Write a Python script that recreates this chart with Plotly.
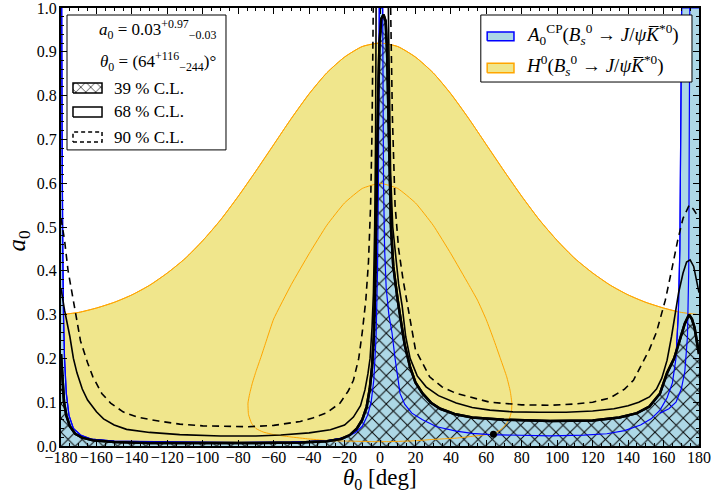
import plotly.graph_objects as go

# ---------------- data ----------------
# H0 outer contour (orange, filled khaki)
h0_theta = [-180,-170,-160,-150,-140,-130,-120,-110,-100,-90,-80,-70,-60,-50,-40,-30,-20,-10,0,
            10,20,30,40,50,60,70,80,90,100,110,120,130,140,150,160,170,180]
h0_a0 = [0.300,0.305,0.315,0.328,0.345,0.367,0.395,0.428,0.469,0.516,0.570,0.628,0.688,0.748,0.804,0.852,0.888,0.912,0.920,
         0.912,0.888,0.852,0.804,0.748,0.688,0.628,0.570,0.516,0.469,0.428,0.395,0.367,0.345,0.328,0.315,0.305,0.300]

# H0 inner contour (orange closed loop)
h0in_theta = [0,10,20,30,40,50,55,60,64,68,71.5,73.5,74.4,74.2,73.4,71.5,69,66,62,52,43,30,20,5.6,-4,-16,-28,-40,-51,-60,-66,-70,-72.5,-74.2,-74.5,-73.5,-72,-70,-67,-64,-60,-50,-40,-30,-20,-10,0]
h0in_a0 = [0.600,0.588,0.555,0.504,0.439,0.369,0.333,0.288,0.245,0.199,0.158,0.125,0.098,0.08,0.067,0.052,0.040,0.032,0.027,0.022,0.018,0.015,0.012,0.010,0.010,0.011,0.012,0.016,0.021,0.026,0.032,0.04,0.052,0.072,0.098,0.12,0.144,0.17,0.205,0.242,0.290,0.369,0.439,0.504,0.555,0.588,0.600]

# A0CP contour (blue, filled light blue below)
acp_theta = [-180,-179.6,-179.4,-179.1,-178.6,-178,-177,-175.5,-173,-169,-163,-150,-120,-80,-50,-30,-20,-14,-10,-7,-5,-3.5,-2.2,-1.4,-0.9,-0.6,-0.4,
             1.5,1.7,2,2.6,3.5,5,6.8,8.5,10,11.3,14,18,24,32,43,52,62,80,96,115,128,138,147,153,158,162,165,167,168.3,169.2,169.8,170.2,180]
acp_a0 = [1.0,1.0,0.7,0.45,0.3,0.2,0.12,0.07,0.04,0.025,0.016,0.011,0.009,0.008,0.009,0.012,0.019,0.03,0.045,0.07,0.1,0.15,0.25,0.4,0.6,0.8,1.0,
          1.0,0.8,0.6,0.45,0.36,0.3,0.258,0.2,0.15,0.12,0.095,0.075,0.06,0.044,0.034,0.029,0.026,0.024,0.023,0.025,0.028,0.035,0.048,0.062,0.082,0.11,0.144,0.2,0.3,0.45,0.7,1.0,1.0]

# second A0CP line near +175 deg
acp2_theta = [174.8,174.6,174.2,173.5,172,170,167,163,158]
acp2_a0 = [1.0,0.6,0.4,0.25,0.17,0.13,0.1,0.085,0.075]

# 39 % C.L. contour (hatched)
cl39_theta = [-180,-179.3,-178.3,-177,-175,-172,-168,-162,-150,-130,-100,-70,-45,-30,-22,-17,-13,-10,-7.5,-5.8,-4.5,-3.5,-2.8,-2.3,-1.6,-1,-0.3,0.7,2,
              3.2,4,4.6,5.3,6.2,7.5,9,10,12,14,17,20,24,29,34,42,52,70,96,120,135,145,152,158,162,166,169,172,174.4,176,177.5,179,180]
cl39_a0 = [0.21,0.15,0.1,0.07,0.045,0.028,0.019,0.013,0.009,0.007,0.0065,0.007,0.008,0.011,0.016,0.025,0.04,0.06,0.09,0.13,0.18,0.25,0.35,0.49,0.65,0.8,0.92,0.975,0.985,
           0.97,0.9,0.8,0.65,0.5,0.41,0.36,0.333,0.28,0.23,0.18,0.145,0.12,0.098,0.085,0.073,0.065,0.06,0.057,0.058,0.065,0.075,0.09,0.12,0.167,0.2,0.24,0.28,0.3,0.29,0.27,0.235,0.21]

# 68 % C.L. contour (solid), left and right branches
cl68L_theta = [-180,-178,-175,-173,-171,-168,-165,-160,-156,-150,-143,-130,-113,-90,-70,-56,-40,-28,-20,-15,-11,-8.5,-6.8,-5.6,-4.5,-3.7,-3,-2.5,-2.2]
cl68L_a0 = [0.36,0.31,0.25,0.2,0.167,0.13,0.105,0.078,0.062,0.048,0.038,0.031,0.026,0.023,0.023,0.025,0.03,0.037,0.048,0.066,0.092,0.128,0.165,0.2,0.27,0.35,0.5,0.7,1.0]
cl68R_theta = [4.7,5.2,6,7.2,9,10.5,12.5,14.5,17,21,26,33,43,52,62,75,90,105,120,132,140,146,152,156,159,162,164.5,166.5,168.5,171,173,175,177,179,180]
cl68R_a0 = [1.0,0.8,0.62,0.5,0.42,0.37,0.32,0.25,0.2,0.16,0.135,0.115,0.098,0.088,0.082,0.078,0.077,0.077,0.08,0.085,0.092,0.1,0.112,0.13,0.155,0.196,0.25,0.3,0.35,0.395,0.42,0.425,0.41,0.37,0.35]

# 90 % C.L. contour (dashed), left and right branches
cl90L_theta = [-180,-178,-176,-173,-169,-165,-162,-157,-152,-145,-137,-125,-113,-100,-85,-75,-60,-45,-38,-30,-22.6,-18,-15,-12,-10,-8,-6.5,-5.3,-4.5,-3.8]
cl90L_a0 = [0.52,0.47,0.40,0.333,0.24,0.19,0.158,0.12,0.098,0.078,0.066,0.057,0.05,0.046,0.044,0.044,0.047,0.056,0.064,0.076,0.098,0.125,0.15,0.2,0.26,0.333,0.42,0.55,0.72,1.0]
cl90R_theta = [6,7,8.5,10.5,13,15,20,28,35,43,62,80,96,110,120,130,138,143,147,152,156,161,165,168,171,174.5,177,180]
cl90R_a0 = [1.0,0.75,0.55,0.45,0.38,0.333,0.22,0.158,0.135,0.12,0.1,0.094,0.093,0.096,0.1,0.11,0.13,0.15,0.18,0.22,0.26,0.333,0.41,0.47,0.52,0.55,0.54,0.52]

# best fit point
best_theta = [64]
best_a0 = [0.027]

x_ticks = list(range(-180, 181, 20))
x_ticktext = [str(v).replace('-', '\u2212') for v in x_ticks]
y_ticks = [i / 10 for i in range(11)]
y_ticktext = ['%.1f' % v for v in y_ticks]

# ---------------- figure ----------------
KHAKI = '#f0e68c'
LBLUE = '#add8e6'
ORANGE = '#ffa500'
BLUE = '#0000ff'
FONT = 'Liberation Serif'

fig = go.Figure()
sp = 'spline'
sm = 0.6

fig.add_trace(go.Scatter(x=h0_theta, y=h0_a0, mode='lines', fill='tozeroy', fillcolor=KHAKI,
                         line=dict(color=ORANGE, width=1, shape=sp, smoothing=sm)))
fig.add_trace(go.Scatter(x=acp_theta, y=acp_a0, mode='lines', fill='tozeroy', fillcolor=LBLUE,
                         line=dict(color=BLUE, width=1.2)))
fig.add_trace(go.Scatter(x=cl39_theta, y=cl39_a0, mode='lines', fill='tozeroy',
                         fillpattern=dict(shape='x', size=10, solidity=0.18, fgcolor='black', bgcolor=LBLUE, fillmode='replace'),
                         line=dict(color='black', width=2.5)))
fig.add_trace(go.Scatter(x=h0_theta, y=h0_a0, mode='lines', line=dict(color=ORANGE, width=1, shape=sp, smoothing=sm)))
fig.add_trace(go.Scatter(x=h0in_theta, y=h0in_a0, mode='lines', line=dict(color=ORANGE, width=1, shape=sp, smoothing=0.4)))
fig.add_trace(go.Scatter(x=acp_theta[1:-1], y=acp_a0[1:-1], mode='lines', line=dict(color=BLUE, width=1.2)))
fig.add_trace(go.Scatter(x=acp2_theta, y=acp2_a0, mode='lines', line=dict(color=BLUE, width=1.2)))
fig.add_trace(go.Scatter(x=cl68L_theta, y=cl68L_a0, mode='lines', line=dict(color='black', width=1.6)))
fig.add_trace(go.Scatter(x=cl68R_theta, y=cl68R_a0, mode='lines', line=dict(color='black', width=1.6)))
fig.add_trace(go.Scatter(x=cl90L_theta, y=cl90L_a0, mode='lines', line=dict(color='black', width=1.6, dash='7px,5px')))
fig.add_trace(go.Scatter(x=cl90R_theta, y=cl90R_a0, mode='lines', line=dict(color='black', width=1.6, dash='7px,5px')))
fig.add_trace(go.Scatter(x=cl39_theta, y=cl39_a0, mode='lines', line=dict(color='black', width=2.5)))
fig.add_trace(go.Scatter(x=best_theta, y=best_a0, mode='markers', marker=dict(color='black', size=7)))

# ---- legend boxes on an overlay axis in [0,1] ----
def box(x0, x1, y0, y1, **kw):
    return go.Scatter(x=[x0, x1, x1, x0, x0], y=[y0, y0, y1, y1, y0], mode='lines', fill='toself',
                      xaxis='x2', yaxis='y2', hoverinfo='skip', **kw)

fig.add_trace(box(0.0094, 0.2586, 0.676, 0.984, fillcolor='white', line=dict(color='black', width=1)))
fig.add_trace(box(0.0188, 0.0643, 0.806, 0.829,
                  fillpattern=dict(shape='x', size=7, solidity=0.18, fgcolor='black', bgcolor='white', fillmode='replace'),
                  line=dict(color='black', width=1.5)))
fig.add_trace(box(0.0188, 0.0643, 0.751, 0.774, fillcolor='white', line=dict(color='black', width=1.5)))
fig.add_trace(box(0.0188, 0.0643, 0.694, 0.717, fillcolor='white', line=dict(color='black', width=1.5, dash='4px,3px')))
fig.add_trace(box(0.658, 0.989, 0.831, 0.984, fillcolor='white', line=dict(color='black', width=1)))
fig.add_trace(box(0.668, 0.710, 0.925, 0.945, fillcolor=LBLUE, line=dict(color=BLUE, width=1.5)))
fig.add_trace(box(0.668, 0.710, 0.852, 0.874, fillcolor=KHAKI, line=dict(color=ORANGE, width=1.5)))

ann_font = dict(family=FONT, size=17, color='black')
leg_font = dict(family=FONT, size=19, color='black')
annotations = [
    dict(x=0.246, y=0.950, xanchor='right', yanchor='middle', font=ann_font,
         text='<i>a</i><sub>0</sub> = 0.03<sup>+0.97</sup><sub>\u22120.03</sub>'),
    dict(x=0.246, y=0.877, xanchor='right', yanchor='middle', font=ann_font,
         text='<i>\u03b8</i><sub>0</sub> = (64<sup>+116</sup><sub>\u2212244</sub>)\u00b0'),
    dict(x=0.080, y=0.817, xanchor='left', yanchor='middle', font=ann_font, text='39 % C.L.'),
    dict(x=0.080, y=0.763, xanchor='left', yanchor='middle', font=ann_font, text='68 % C.L.'),
    dict(x=0.080, y=0.705, xanchor='left', yanchor='middle', font=ann_font, text='90 % C.L.'),
    dict(x=0.725, y=0.940, xanchor='left', yanchor='middle', font=leg_font,
         text='<i>A</i><sub>0</sub><sup>CP</sup>(<i>B</i><sub><i>s</i></sub><sup>0</sup> \u2192 <i>J</i>/<i>\u03c8</i><i>K\u0305</i><sup>*0</sup>)'),
    dict(x=0.725, y=0.869, xanchor='left', yanchor='middle', font=leg_font,
         text='<i>H</i><sup>0</sup>(<i>B</i><sub><i>s</i></sub><sup>0</sup> \u2192 <i>J</i>/<i>\u03c8</i><i>K\u0305</i><sup>*0</sup>)'),
]
for a in annotations:
    a.update(xref='paper', yref='paper', showarrow=False)
annotations.append(dict(x=0.5, y=-0.075, xref='paper', yref='paper', showarrow=False, xanchor='center', yanchor='middle',
                        text='<i>\u03b8</i><sub>0</sub> [deg]', font=dict(family=FONT, size=23, color='black')))
annotations.append(dict(x=-0.067, y=0.47, xref='paper', yref='paper', showarrow=False, xanchor='center', yanchor='middle',
                        textangle=-90, text='<i>a</i><sub>0</sub>', font=dict(family=FONT, size=25, color='black')))

axis_common = dict(showline=True, linecolor='black', linewidth=2, mirror='allticks', ticks='inside',
                   ticklen=6, tickwidth=1, tickcolor='black', showgrid=False, zeroline=False, tickangle=0,
                   automargin=False, ticklabeloverflow='allow', tickfont=dict(family=FONT, size=16, color='black'))
fig.update_layout(
    width=711, height=499, margin=dict(l=61, r=12, t=8, b=53),
    paper_bgcolor='white', plot_bgcolor='white', showlegend=False,
    xaxis=dict(range=[-180, 180], tickvals=x_ticks, ticktext=x_ticktext, ticklabelstandoff=-4,
               minor=dict(dtick=5, ticklen=3, ticks='inside', tickcolor='black'), **axis_common),
    yaxis=dict(range=[0, 1], tickvals=y_ticks, ticktext=y_ticktext, ticklabelstandoff=-1,
               minor=dict(dtick=0.02, ticklen=3, ticks='inside', tickcolor='black'), **axis_common),
    xaxis2=dict(overlaying='x', range=[0, 1], visible=False, fixedrange=True),
    yaxis2=dict(overlaying='y', range=[0, 1], visible=False, fixedrange=True),
    annotations=annotations,
)
fig.update_xaxes(tickfont=dict(size=15), selector=dict(anchor='y'))
# remove the default 8 px page margin so the figure sits at the window's corner
fig.write_html('out.html', config={'displayModeBar': False},
               post_script="document.body.style.margin='0';")
